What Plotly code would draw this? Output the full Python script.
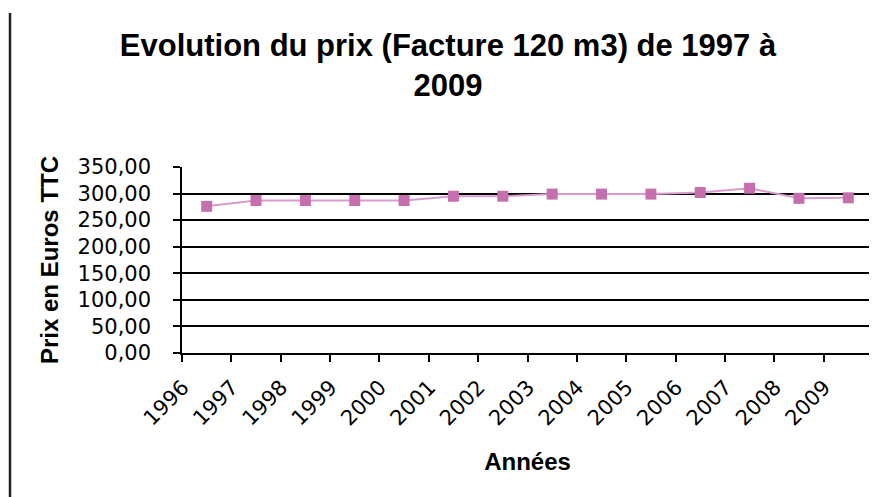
import plotly.graph_objects as go

years = ["1996", "1997", "1998", "1999", "2000", "2001", "2002",
         "2003", "2004", "2005", "2006", "2007", "2008", "2009"]
prix = [276, 287, 287, 287, 287, 295, 295, 299, 299, 299, 302, 310, 291, 292]

title_text = "Evolution du prix (Facture 120 m3) de 1997 à<br>2009"
y_title = "Prix en Euros TTC"
x_title = "Années"

# page body has an 8px margin, so the figure is sized to fit the window
W, H = 869, 489
L, R, T, B = 174, 4, 159, 144
pw, ph = W - L - R, H - T - B

fig = go.Figure()
fig.add_trace(go.Scatter(
    x=years, y=prix, mode="lines+markers",
    line=dict(color="#D99BCB", width=2),
    marker=dict(symbol="square", size=11, color="#C66FAE"),
    showlegend=False,
))

font_family = "Liberation Sans, Arial, sans-serif"
tick_family = "DejaVu Sans, Liberation Sans, sans-serif"

fig.update_layout(
    width=W, height=H,
    margin=dict(l=L, r=R, t=T, b=B),
    paper_bgcolor="white", plot_bgcolor="white",
    separators=", ",
    font=dict(family=font_family, color="black"),
    title=dict(text=title_text, x=440 / W, xanchor="center", xref="container",
               y=1 - 48 / H, yanchor="top", yref="container",
               font=dict(size=31, family=font_family, weight="bold", color="black")),
    xaxis=dict(
        type="category", range=[-0.5, len(years) - 0.5],
        tickson="boundaries", ticks="outside", ticklen=7,
        tickwidth=1.5, tickcolor="black", showline=True, linecolor="black",
        linewidth=1.5, showgrid=False, tickangle=-45, ticklabelshift=-24,
        ticklabelstandoff=12,
        tickfont=dict(size=21, family=tick_family, color="black"),
        title=dict(text=x_title, standoff=24,
                   font=dict(size=24, family=font_family, weight="bold", color="black")),
        automargin=False, zeroline=False,
    ),
    yaxis=dict(
        range=[0, 350], dtick=50, tick0=0, tickformat=".2f",
        ticks="outside", ticklen=7, tickwidth=1.5, tickcolor="black",
        showline=True, linecolor="black", linewidth=1.5,
        showgrid=True, gridcolor="black", gridwidth=1.8, zeroline=False,
        ticklabelstandoff=18,
        tickfont=dict(size=21, family=tick_family, color="black"),
        title=dict(text=y_title, standoff=12,
                   font=dict(size=24, family=font_family, weight="bold", color="black")),
        automargin=False,
    ),
    shapes=[dict(type="line", xref="paper", yref="paper",
                 x0=(2 - L) / pw, x1=(2 - L) / pw,
                 y0=(T + ph - 5) / ph, y1=-1.0,
                 line=dict(color="#222222", width=2.5))],
)

fig.write_html("out.html")
